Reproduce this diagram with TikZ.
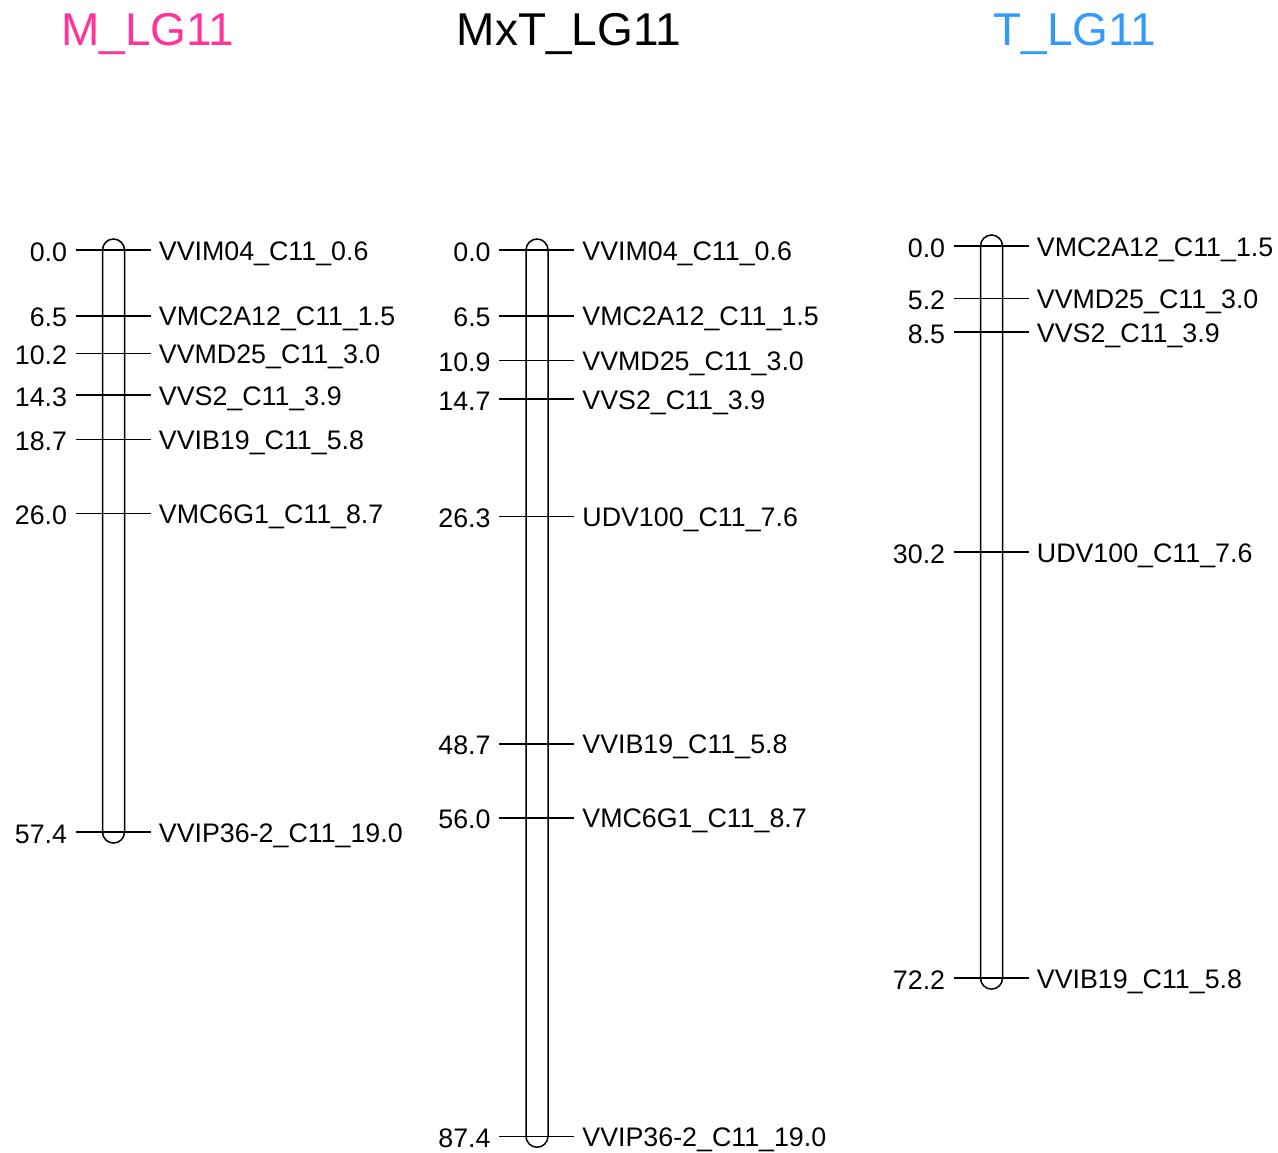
\documentclass[tikz,border=0pt]{standalone}
\usepackage{fontspec}
\setmainfont{Liberation Sans}
\usetikzlibrary{positioning}
\definecolor{mpink}{HTML}{FF3399}
\definecolor{tblue}{HTML}{3399FF}

\begin{document}
\begin{tikzpicture}[x=0.5pt,y=-0.5pt,
    ttl/.style={font=\fontsize{23}{27}\selectfont, inner sep=0pt, anchor=base},
    lbl/.style={font=\fontsize{13.4}{15}\selectfont, inner sep=0pt},
    chr/.style={draw, line width=0.75pt, rounded corners=5.5pt},
    tick/.style={line width=0.75pt}]
  \pgfmathsetmacro{\s}{10.14}
  \useasboundingbox (0,0) rectangle (1278,1152);

  \node[ttl, text=mpink] (mtitle) at (148,45)  {M\_LG11};
  \node[ttl]             (xtitle) at (569,45)  {MxT\_LG11};
  \node[ttl, text=tblue] (ttitle) at (1075,45) {T\_LG11};

  % M_LG11
  \begin{scope}[shift={(113.5,250)}]
    \draw[chr] (-11,-11) rectangle (11,{57.4*\s+11});
    \foreach \p/\m [count=\i] in {0.0/VVIM04\_C11\_0.6, 6.5/VMC2A12\_C11\_1.5,
        10.2/VVMD25\_C11\_3.0, 14.3/VVS2\_C11\_3.9, 18.7/VVIB19\_C11\_5.8,
        26.0/VMC6G1\_C11\_8.7, 57.4/VVIP36-2\_C11\_19.0}{
      \draw[tick] (-38,{\p*\s}) -- (37,{\p*\s});
      \node[lbl, anchor=base east] (mnum\i) at (-46,{\p*\s+11}) {\p};
      \node[lbl, anchor=base west] (mmk\i)  at (45,{\p*\s+10})  {\m};
    }
  \end{scope}

  % MxT_LG11
  \begin{scope}[shift={(537,250)}]
    \draw[chr] (-11,-11) rectangle (11,{87.4*\s+11});
    \foreach \p/\m [count=\i] in {0.0/VVIM04\_C11\_0.6, 6.5/VMC2A12\_C11\_1.5,
        10.9/VVMD25\_C11\_3.0, 14.7/VVS2\_C11\_3.9, 26.3/UDV100\_C11\_7.6,
        48.7/VVIB19\_C11\_5.8, 56.0/VMC6G1\_C11\_8.7, 87.4/VVIP36-2\_C11\_19.0}{
      \draw[tick] (-38,{\p*\s}) -- (37,{\p*\s});
      \node[lbl, anchor=base east] (xnum\i) at (-46,{\p*\s+11}) {\p};
      \node[lbl, anchor=base west] (xmk\i)  at (45,{\p*\s+10})  {\m};
    }
  \end{scope}

  % T_LG11
  \begin{scope}[shift={(991.5,246)}]
    \draw[chr] (-11,-11) rectangle (11,{72.2*\s+11});
    \foreach \p/\m [count=\i] in {0.0/VMC2A12\_C11\_1.5, 5.2/VVMD25\_C11\_3.0,
        8.5/VVS2\_C11\_3.9, 30.2/UDV100\_C11\_7.6, 72.2/VVIB19\_C11\_5.8}{
      \draw[tick] (-38,{\p*\s}) -- (37,{\p*\s});
      \node[lbl, anchor=base east] (tnum\i) at (-46,{\p*\s+11}) {\p};
      \node[lbl, anchor=base west] (tmk\i)  at (45,{\p*\s+10})  {\m};
    }
  \end{scope}
\end{tikzpicture}
\end{document}
